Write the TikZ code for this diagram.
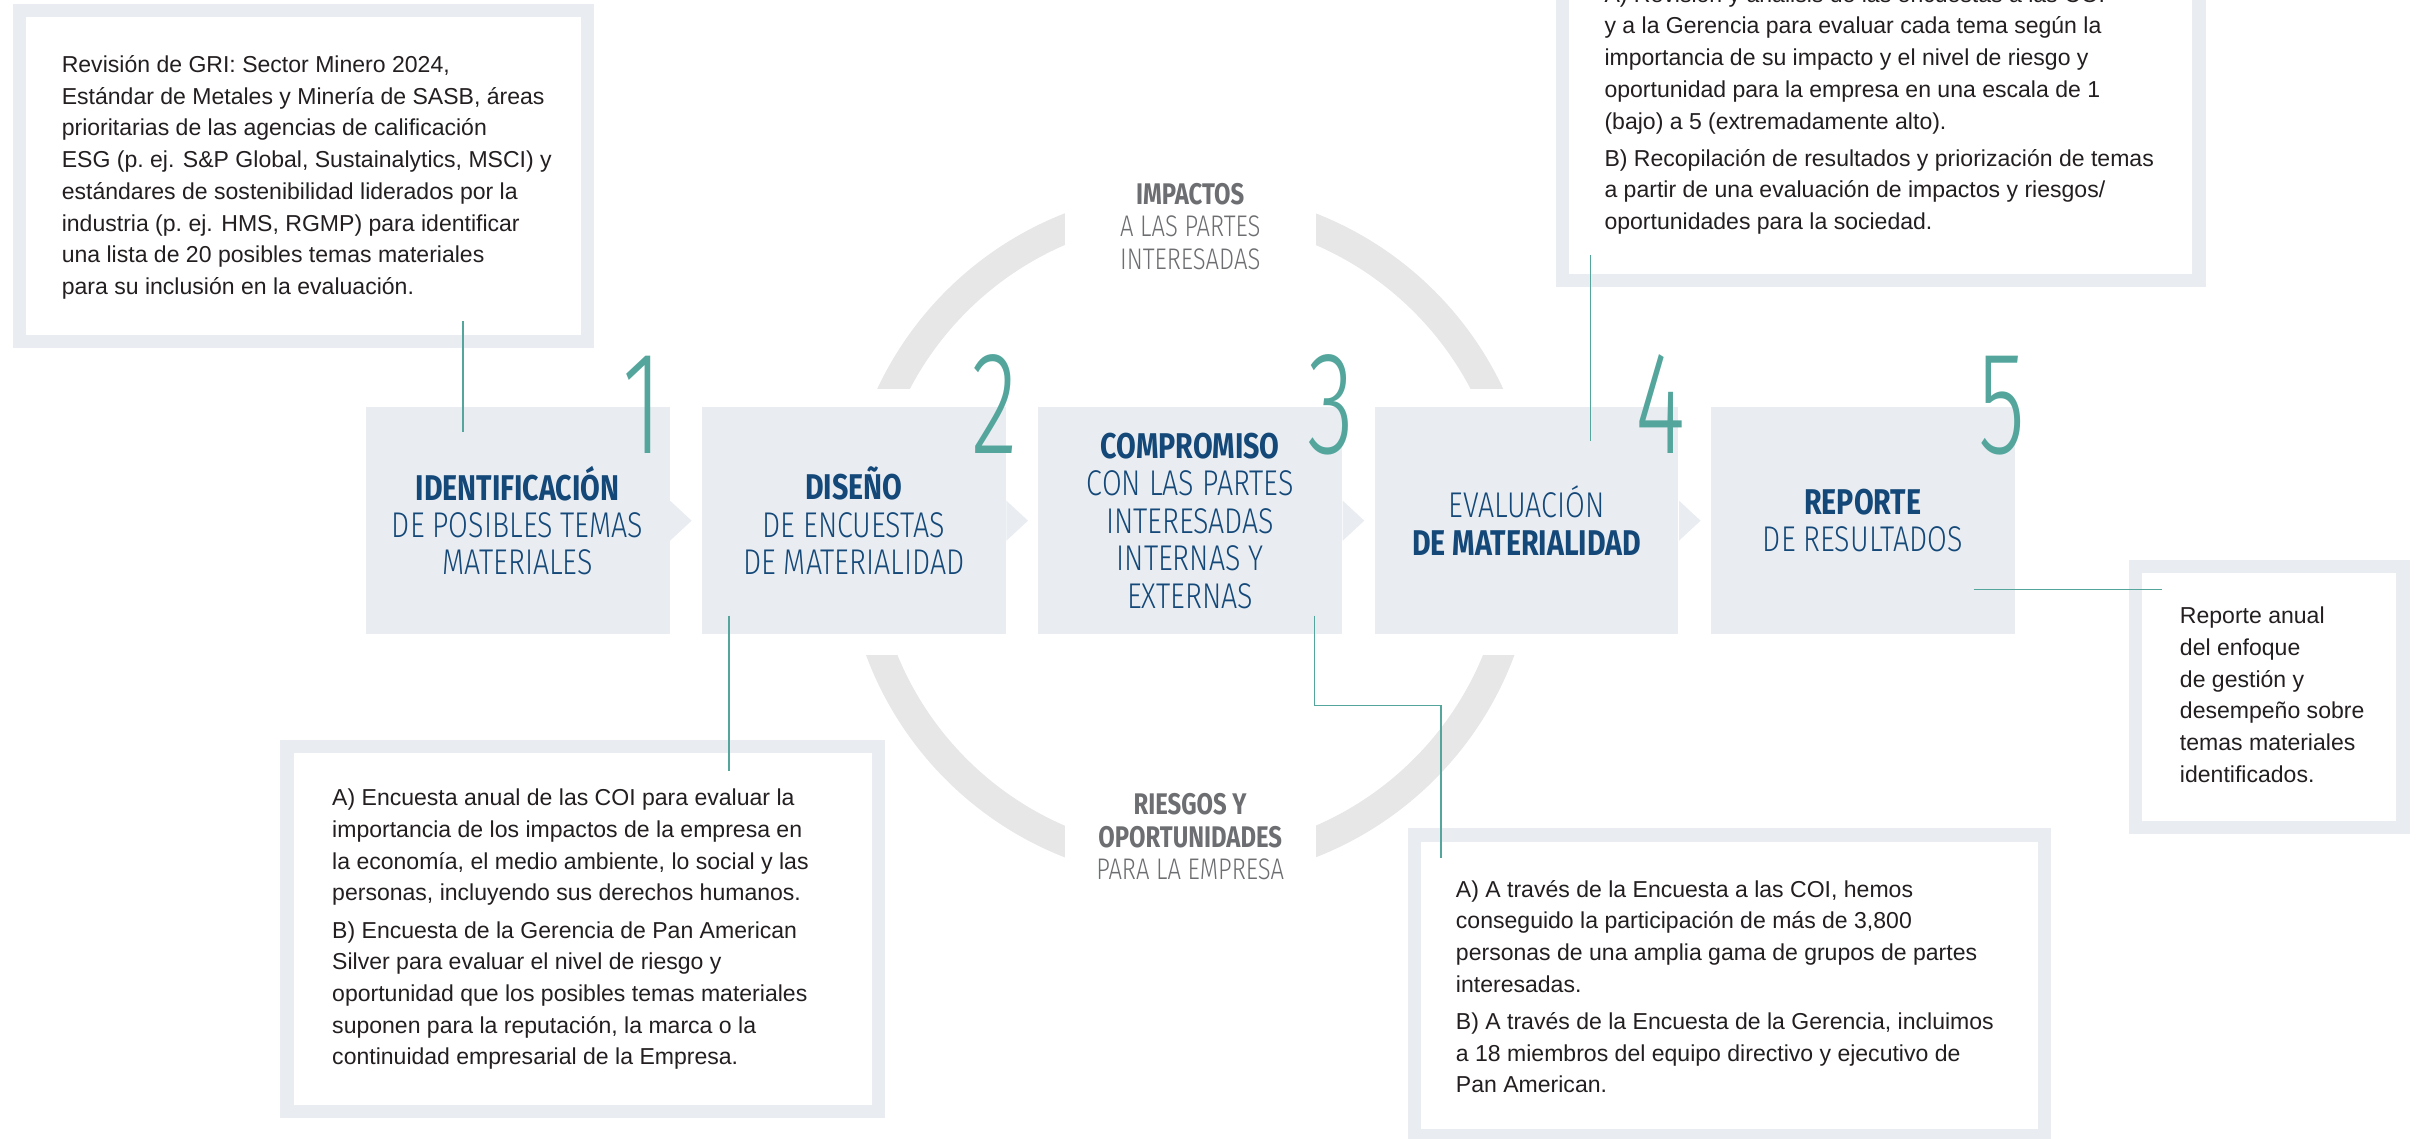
\documentclass[tikz,border=0pt]{standalone}
\usepackage{fontspec}
\setmainfont{Liberation Sans}
\newfontfamily\headfont{Fira Sans}[UprightFont=* Light, BoldFont=* Bold, FakeStretch=0.8]
\newfontfamily\numfont{Fira Sans}[UprightFont=* Light, FakeStretch=0.66]

\definecolor{navy}{RGB}{20,72,120}
\definecolor{boxgray}{RGB}{233,237,242}
\definecolor{ringgray}{RGB}{231,231,231}
\definecolor{labelgray}{RGB}{109,110,113}
\definecolor{ink}{RGB}{35,31,32}
\definecolor{tealline}{RGB}{84,166,157}

\tikzset{
  stepbox/.style={fill=boxgray, minimum width=3.94cm, minimum height=2.94cm, inner sep=0pt,
    align=center, text=navy, font=\headfont\fontsize{13.2}{13.8}\selectfont},
  notebox/.style={draw=boxgray, line width=0.17cm, fill=white, inner sep=0pt},
  notetext/.style={anchor=north west, inner sep=0pt, align=left, text=ink,
    font=\fontsize{8.5}{11.7}\selectfont},
  bignum/.style={anchor=base east, inner sep=0pt, text=tealline,
    font=\numfont\fontsize{54}{54}\selectfont},
  ringlabel/.style={fill=white, minimum width=3.26cm, inner xsep=0pt, inner ysep=3pt,
    align=center, text=labelgray, font=\headfont\fontsize{11}{11.95}\selectfont},
  link/.style={draw=tealline, line width=0.6pt},
}

\begin{document}
\begin{tikzpicture}[x=0.02cm, y=-0.02cm]
  \useasboundingbox (0,0) rectangle (1568,738);

  % ring behind the steps
  \draw[ringgray, line width=0.38cm] (771.5,347) circle[radius=4.29cm];
  \fill[white] (520,252) rectangle (1020,424.5);
  \node[ringlabel, anchor=north] (top) at (771.5,113.2)
    {\textbf{IMPACTOS}\\A LAS PARTES\\INTERESADAS};
  \node[ringlabel, anchor=north] (bottom) at (771.5,508.7)
    {\textbf{RIESGOS Y}\\\textbf{OPORTUNIDADES}\\PARA LA EMPRESA};

  % steps
  \node[stepbox] (s1) at (335.5,337.5) {\textbf{IDENTIFICACIÓN}\\DE POSIBLES TEMAS\\MATERIALES};
  \node[stepbox] (s2) at (553.5,337.5) {\textbf{DISEÑO}\\DE ENCUESTAS\\DE MATERIALIDAD};
  \node[stepbox] (s3) at (771.5,337.5) {\textbf{COMPROMISO}\\CON LAS PARTES\\INTERESADAS\\INTERNAS Y\\EXTERNAS};
  \node[stepbox] (s4) at (989.5,337.5) {EVALUACIÓN\\\textbf{DE MATERIALIDAD}};
  \node[stepbox] (s5) at (1207.5,337.5) {\textbf{REPORTE}\\DE RESULTADOS};
  \foreach \s in {s1,s2,s3,s4}
    \fill[boxgray] (\s.east) ++(0,-13) -- ++(14,13) -- ++(-14,13) -- cycle;

  \node[bignum] (n1) at (430,294) {1};
  \node[bignum] (n2) at (660,294) {2};
  \node[bignum] (n3) at (878,294) {3};
  \node[bignum] (n4) at (1093,294) {4};
  \node[bignum] (n5) at (1313,294) {5};

  % notes
  \node[notebox, minimum width=7.372cm, minimum height=4.294cm] (b1) at (196.7,114.15) {};
  \node[notebox, minimum width=7.664cm, minimum height=4.73cm] (b2) at (377.6,602.05) {};
  \node[notebox, minimum width=8.172cm, minimum height=3.894cm] (b3) at (1120.9,638.55) {};
  \node[notebox, minimum width=3.468cm, minimum height=3.386cm] (b4) at (1470.9,451.95) {};
  \node[notebox, minimum width=8.252cm, minimum height=4.034cm] (b5) at (1219.1,80.85) {};

  \node[notetext] (t1) at (39.7,35.6) {Revisión de GRI: Sector Minero 2024,\\
    Estándar de Metales y Minería de SASB, áreas\\
    prioritarias de las agencias de calificación\\
    ESG (p.~ej. S\&P Global, Sustainalytics, MSCI) y\\
    estándares de sostenibilidad liderados por la\\
    industria (p.~ej. HMS, RGMP) para identificar\\
    una lista de 20 posibles temas materiales\\
    para su inclusión en la evaluación.};
  \node[notetext] (t2) at (215,511.1) {A) Encuesta anual de las COI para evaluar la\\
    importancia de los impactos de la empresa en\\
    la economía, el medio ambiente, lo social y las\\
    personas, incluyendo sus derechos humanos.\\[2pt]
    B) Encuesta de la Gerencia de Pan American\\
    Silver para evaluar el nivel de riesgo y\\
    oportunidad que los posibles temas materiales\\
    suponen para la reputación, la marca o la\\
    continuidad empresarial de la Empresa.};
  \node[notetext] (t3) at (943.4,570.1) {A) A través de la Encuesta a las COI, hemos\\
    conseguido la participación de más de 3,800\\
    personas de una amplia gama de grupos de partes\\
    interesadas.\\[2pt]
    B) A través de la Encuesta de la Gerencia, incluimos\\
    a 18 miembros del equipo directivo y ejecutivo de\\
    Pan American.};
  \node[notetext] (t4) at (1412.7,393.1) {Reporte anual\\
    del enfoque\\
    de gestión y\\
    desempeño sobre\\
    temas materiales\\
    identificados.};
  \node[notetext] (t5) at (1039.7,-9.9) {A) Revisión y análisis de las encuestas a las COI\\
    y a la Gerencia para evaluar cada tema según la\\
    importancia de su impacto y el nivel de riesgo y\\
    oportunidad para la empresa en una escala de 1\\
    (bajo) a 5 (extremadamente alto).\\[2pt]
    B) Recopilación de resultados y priorización de temas\\
    a partir de una evaluación de impactos y riesgos/\\
    oportunidades para la sociedad.};

  % links
  \coordinate (c1) at (300,208);
  \coordinate (c2) at (472.6,500);
  \coordinate (c3) at (934,556.3);
  \coordinate (c4) at (1031,165);
  \coordinate (c5) at (1401.6,382);
  \draw[link] (c1) -- (c1 |- 0,280);
  \draw[link] (472.6,399) -- (c2);
  \draw[link] (852,399) |- (934,457.3) -- (c3);
  \draw[link] (c4) -- (c4 |- 0,285.8);
  \draw[link] (1279.3,382) -- (c5);
\end{tikzpicture}
\end{document}
